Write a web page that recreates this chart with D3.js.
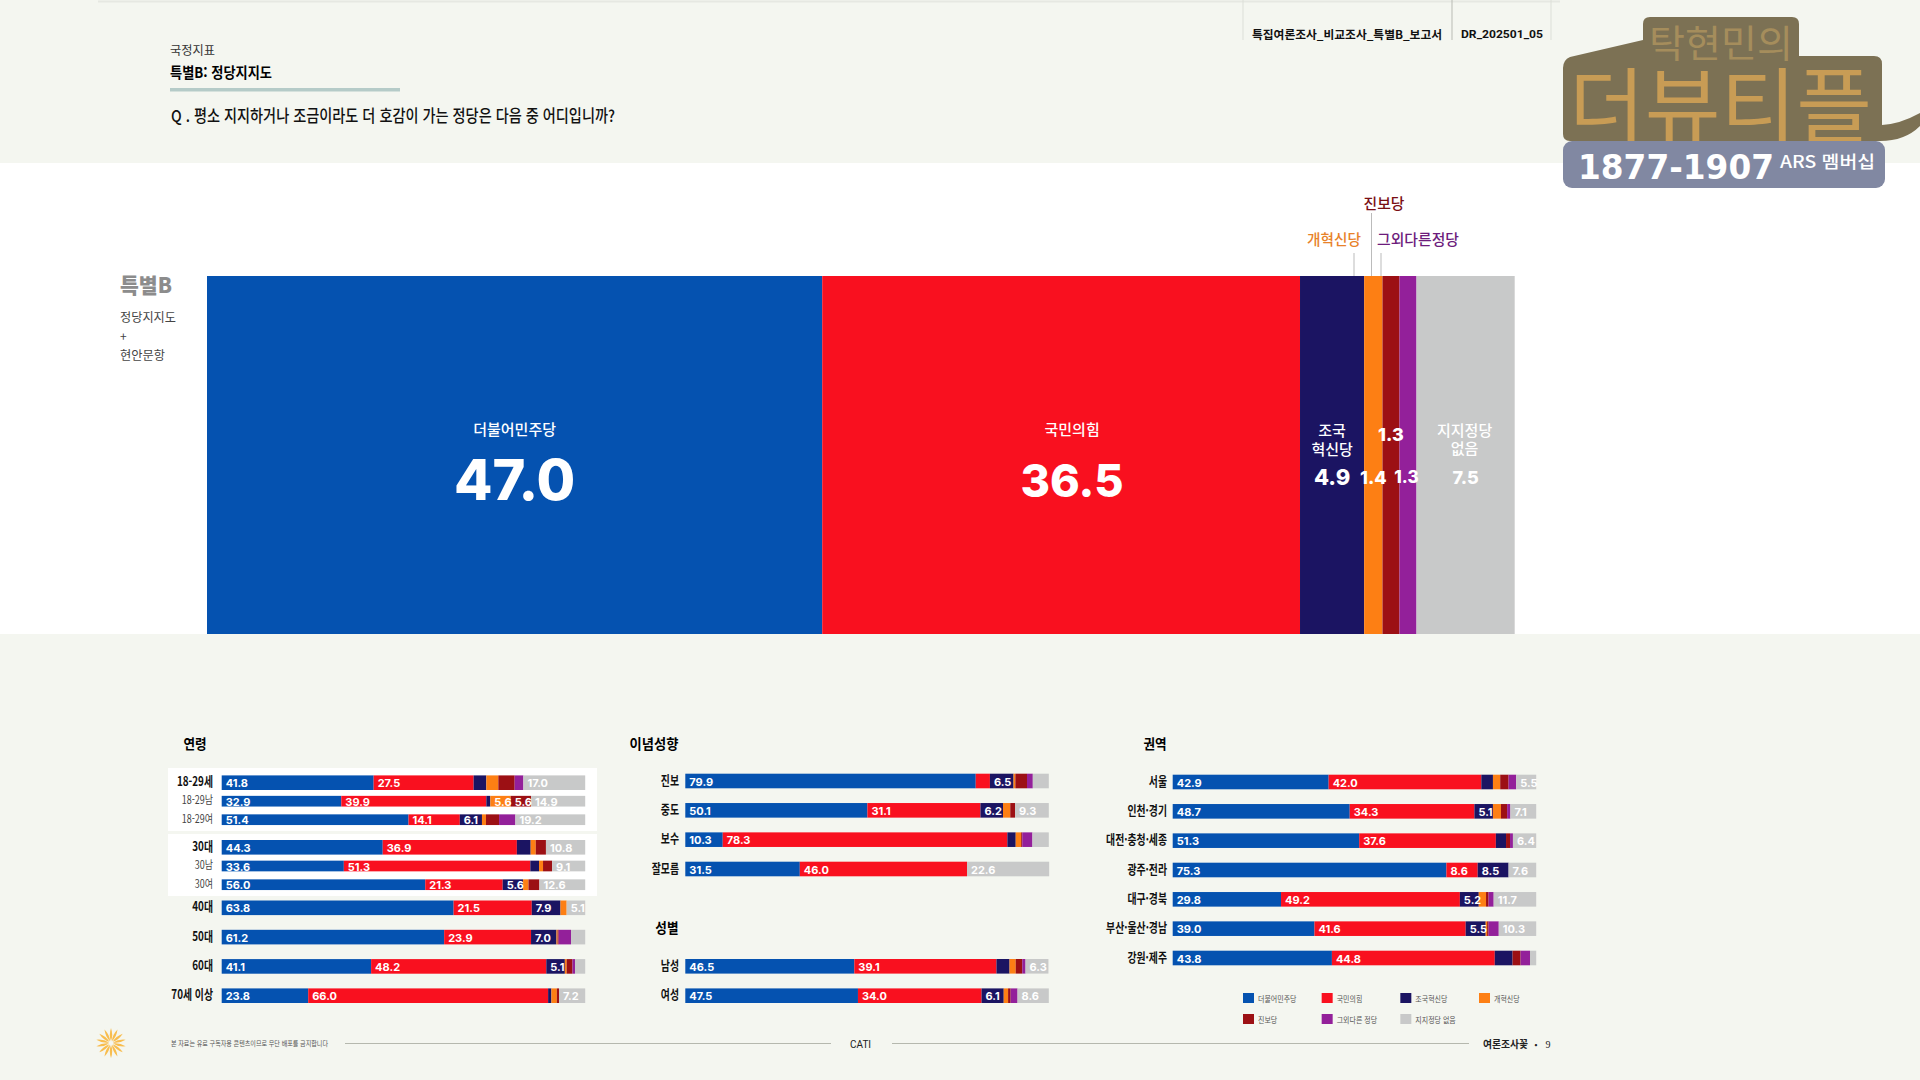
<!DOCTYPE html>
<html lang="ko">
<head>
<meta charset="utf-8">
<script src="https://cdnjs.cloudflare.com/ajax/libs/d3/7.8.5/d3.min.js"></script>
<style>
  html, body { margin: 0; padding: 0; background: #f4f6f0; }
  svg { display: block; font-family: "Noto Sans CJK KR", "Noto Sans", sans-serif; }
</style>
</head>
<body>
<div id="chart"></div>
<script>
const partyNames = ["더불어민주당", "국민의힘", "조국혁신당", "개혁신당", "진보당", "그외다른 정당", "지지정당 없음"];
const partyColors = ["#0552b0", "#f9101f", "#1b1462", "#fd7f14", "#9c1014", "#93209a", "#c8c9c9"];
const overallValues = [47.0, 36.5, 4.9, 1.4, 1.3, 1.3, 7.5];

// 연령
const age1829Labels = ["18-29세", "18-29남", "18-29여"];
const age1829Values = [
  [41.8, 27.5, 3.5, 3.3, 4.5, 2.4, 17.0],
  [32.9, 39.9, 1.1, 5.6, 5.6, 0, 14.9],
  [51.4, 14.1, 6.1, 1.1, 3.6, 4.5, 19.2]
];
const age30Labels = ["30대", "30남", "30여"];
const age30Values = [
  [44.3, 36.9, 3.8, 1.4, 2.8, 0, 10.8],
  [33.6, 51.3, 2.4, 1.1, 2.5, 0, 9.1],
  [56.0, 21.3, 5.6, 1.5, 3.0, 0, 12.6]
];
const ageRestLabels = ["40대", "50대", "60대", "70세 이상"];
const ageRestValues = [
  [63.8, 21.5, 7.9, 1.7, 0, 0, 5.1],
  [61.2, 23.9, 7.0, 0.3, 0.3, 3.4, 3.9],
  [41.1, 48.2, 5.1, 0.5, 1.6, 0.7, 2.8],
  [23.8, 66.0, 0.9, 1.5, 0.6, 0, 7.2]
];

// 이념성향, 성별
const ideologyLabels = ["진보", "중도", "보수", "잘모름"];
const ideologyValues = [
  [79.9, 3.9, 6.5, 0.5, 3.2, 1.6, 4.4],
  [50.1, 31.1, 6.2, 2.0, 1.3, 0, 9.3],
  [10.3, 78.3, 2.3, 1.5, 0.3, 2.8, 4.5],
  [31.5, 46.0, 0, 0, 0, 0, 22.6]
];
const genderLabels = ["남성", "여성"];
const genderValues = [
  [46.5, 39.1, 3.6, 1.7, 1.8, 0.9, 6.3],
  [47.5, 34.0, 6.1, 1.2, 0.7, 1.9, 8.6]
];

// 권역
const regionLabels = ["서울", "인천·경기", "대전·충청·세종", "광주·전라", "대구·경북", "부산·울산·경남", "강원·제주"];
const regionValues = [
  [42.9, 42.0, 3.2, 2.0, 2.3, 2.1, 5.5],
  [48.7, 34.3, 5.1, 2.2, 1.7, 0.9, 7.1],
  [51.3, 37.6, 2.8, 0, 1.1, 0.8, 6.4],
  [75.3, 8.6, 8.5, 0, 0, 0, 7.6],
  [29.8, 49.2, 5.2, 2.0, 0.7, 1.4, 11.7],
  [39.0, 41.6, 5.5, 0.4, 0.4, 2.8, 10.3],
  [43.8, 44.8, 4.9, 0, 2.2, 2.6, 1.7]
];

const svg = d3.select("#chart").append("svg").attr("width", 1920).attr("height", 1080);
const fmt = d3.format(".1f");

// helper, fit = width to fill, squeeze = condense horizontally
function label(g, x, y, str, o = {}) {
  const t = g.append("text")
    .attr("x", x).attr("y", y)
    .attr("dominant-baseline", "central")
    .attr("text-anchor", o.anchor || "start")
    .attr("font-size", o.size || 12)
    .attr("font-weight", o.weight || 400)
    .attr("fill", o.fill || "#111")
    .text(str);
  if (o.family) t.attr("font-family", o.family);
  if (o.squeeze) t.attr("x", 0).attr("y", 0).attr("transform", `translate(${x},${y}) scale(${o.squeeze},1)`);
  if (o.fit) t.attr("textLength", o.fit).attr("lengthAdjust", "spacingAndGlyphs");
  return t;
}

// two lines in a single text element
function label2(g, x, y, lines, gap, o = {}) {
  const t = g.append("text")
    .attr("text-anchor", "middle")
    .attr("font-size", o.size || 15)
    .attr("font-weight", o.weight || 500)
    .attr("fill", o.fill || "#fff");
  lines.forEach((s, i) => {
    t.append("tspan").attr("x", x).attr("y", y + i * gap).attr("dominant-baseline", "central").text(s);
  });
  return t;
}

// background bands
svg.append("rect").attr("width", 1920).attr("height", 1080).attr("fill", "#f4f6f0");
svg.append("rect").attr("y", 163).attr("width", 1920).attr("height", 471).attr("fill", "#fff");
svg.append("rect").attr("x", 168).attr("y", 768).attr("width", 429).attr("height", 63).attr("fill", "#fff");
svg.append("rect").attr("x", 168).attr("y", 834).attr("width", 429).attr("height", 62).attr("fill", "#fff");

// header
const head = svg.append("g");
head.append("line").attr("x1", 98).attr("x2", 1560).attr("y1", 1.5).attr("y2", 1.5).attr("stroke", "#e6e8e2").attr("stroke-width", 2);
label(head, 170, 49, "국정지표", { size: 12.5, fit: 45, fill: "#333" });
label(head, 170, 71.5, "특별B: 정당지지도", { size: 14.5, weight: 700, fit: 102, fill: "#000" });
head.append("rect").attr("x", 170).attr("y", 88).attr("width", 230).attr("height", 3.5).attr("fill", "#b5cbc8");
label(head, 171, 115, "Q . 평소 지지하거나 조금이라도 더 호감이 가는 정당은 다음 중 어디입니까?", { size: 16.5, weight: 500, fit: 444, fill: "#111" });
[1243, 1452, 1551].forEach((x, i) => {
  head.append("line").attr("x1", x).attr("x2", x).attr("y1", 0).attr("y2", 40)
    .attr("stroke", i === 1 ? "#b9bbb4" : "#dcdfd8");
});
label(head, 1252, 33.5, "특집여론조사_비교조사_특별B_보고서", { size: 11.5, weight: 700, fit: 190, fill: "#111" });
label(head, 1461, 34, "DR_202501_05", { size: 11, weight: 700, fit: 82, fill: "#111", family: "Roboto" });

// logo overlay
const logo = svg.append("g");
logo.append("path")
  .attr("d", "M1563 68 Q1563 60 1570 57 L1643 40 L1643 24 Q1643 17 1650 17 L1792 17 Q1799 17 1799 24 L1799 56 L1874 56 Q1882 56 1882 64 L1882 125 Q1900 124 1920 113 L1920 126 Q1905 141 1880 141 L1570 141 Q1563 141 1563 134 Z")
  .attr("fill", "#7c7154");
label(logo, 1649, 40, "탁현민의", { size: 38, weight: 400, fit: 144, fill: "#a58d5c" });
label(logo, 1569, 100, "더뷰티플", { size: 82, weight: 400, fit: 303, fill: "#c89c55" });
logo.append("rect").attr("x", 1563).attr("y", 141).attr("width", 322).attr("height", 47).attr("rx", 9).attr("fill", "#8188a2");
label(logo, 1578, 167, "1877-1907", { size: 33, weight: 700, fit: 196, fill: "#fff", family: "DejaVu Sans" });
label(logo, 1780, 160, "ARS 멤버십", { size: 17, weight: 500, fit: 95, fill: "#fff" });

// main stacked bar
const xMain = d3.scaleLinear().domain([0, 100]).range([207, 1516]);
const mainTop = 276, mainH = 358;
const mainEnds = d3.cumsum(overallValues);
const main = svg.append("g");
main.selectAll("rect").data(overallValues).join("rect")
  .attr("x", (d, i) => xMain(mainEnds[i] - d))
  .attr("y", mainTop)
  .attr("width", d => xMain(d) - xMain(0))
  .attr("height", mainH)
  .attr("fill", (d, i) => partyColors[i]);

const mainMid = i => xMain(mainEnds[i] - overallValues[i] / 2);
const numFont = "Inter";
const bigNum = (x, y, i, size) => label(main, x, y, fmt(overallValues[i]), { anchor: "middle", size, weight: 800, fill: "#fff", family: numFont });

label(main, mainMid(0), 428, partyNames[0], { anchor: "middle", size: 15, weight: 500, fill: "#fff" });
bigNum(mainMid(0), 480, 0, 56);
label(main, mainMid(1) + 11, 428, partyNames[1], { anchor: "middle", size: 15, weight: 500, fill: "#fff" });
bigNum(mainMid(1) + 11, 480, 1, 45);
label2(main, mainMid(2), 429, ["조국", "혁신당"], 19);
bigNum(mainMid(2), 477, 2, 22);
bigNum(mainMid(3), 477, 3, 18);
bigNum(mainMid(4), 434, 4, 18);
bigNum(mainMid(5) - 1.5, 477, 5, 17);
label2(main, mainMid(6) - 1, 429, ["지지정당", "없음"], 18);
bigNum(mainMid(6), 477, 6, 18);

// callouts above the bar
const callouts = svg.append("g");
label(callouts, 1384, 202.5, "진보당", { anchor: "middle", size: 15, weight: 500, fit: 41, fill: "#7a0e14" });
label(callouts, 1307, 238, "개혁신당", { size: 15, weight: 500, fit: 54, fill: "#e8822a" });
label(callouts, 1377, 238, "그외다른정당", { size: 15, weight: 500, fit: 82, fill: "#6d1c7c" });
[[1354, 253], [1371.5, 213], [1381, 253]].forEach(([x, y]) => {
  callouts.append("line").attr("x1", x).attr("x2", x).attr("y1", y).attr("y2", mainTop).attr("stroke", "#bbb");
});

// side caption
const side = svg.append("g");
label(side, 120, 284, "특별B", { size: 21, weight: 900, fit: 52, fill: "#8c8c8c" });
label(side, 120, 316, "정당지지도", { size: 12.5, fit: 56, fill: "#444" });
label(side, 120, 335, "+", { size: 12, fill: "#444" });
label(side, 120, 354, "현안문항", { size: 12.5, fit: 45, fill: "#444" });

// small stacked bar blocks
function block(labels, values, yRange, x0, labelEnd, opts = {}) {
  const x = d3.scaleLinear().domain([0, 100]).range([x0, x0 + 363.5]);
  const y = d3.scalePoint().domain(labels).range(yRange);
  const sub = opts.sub || [];
  const rowG = svg.append("g").selectAll("g").data(labels).join("g")
    .attr("transform", d => `translate(0,${y(d)})`);

  rowG.each(function (name, r) {
    const g = d3.select(this);
    const h = sub.includes(name) ? 10.7 : 14.6;
    const ends = d3.cumsum(values[r]);
    g.selectAll("rect").data(values[r]).join("rect")
      .attr("x", (d, i) => x(ends[i] - d))
      .attr("y", -h / 2)
      .attr("width", d => x(d) - x(0))
      .attr("height", h)
      .attr("fill", (d, i) => partyColors[i]);
    g.selectAll("text.val").data(values[r].map((d, i) => ({ d, i })).filter(s => s.d >= 5)).join("text")
      .attr("class", "val")
      .attr("x", s => x(ends[s.i] - s.d) + 4)
      .attr("y", 0.5)
      .attr("dominant-baseline", "central")
      .attr("font-family", "Inter")
      .attr("font-size", 11)
      .attr("font-weight", 700)
      .attr("fill", "#fff")
      .text(s => fmt(s.d));
    label(g, labelEnd, -2, name, sub.includes(name)
      ? { anchor: "end", size: 11.5, fill: "#444", squeeze: 0.78 }
      : { anchor: "end", size: 13, weight: 700, fill: "#111", squeeze: 0.76 });
  });
}

const ageSub = ["18-29남", "18-29여", "30남", "30여"];
block(age1829Labels, age1829Values, [782.7, 819.7], 221.7, 213, { sub: ageSub });
block(age30Labels, age30Values, [847.3, 884.7], 221.7, 213, { sub: ageSub });
block(ageRestLabels, ageRestValues, [907.8, 995.7], 221.7, 213);
block(ideologyLabels, ideologyValues, [781, 869], 685.3, 679);
block(genderLabels, genderValues, [966.3, 995.7], 685.3, 679);
block(regionLabels, regionValues, [782, 958], 1172.7, 1167);

// panel titles
const titles = svg.append("g");
label(titles, 195, 743, "연령", { anchor: "middle", size: 14, weight: 700, fill: "#000", squeeze: 0.9 });
label(titles, 678.5, 743, "이념성향", { anchor: "end", size: 14, weight: 700, fill: "#000", squeeze: 0.95 });
label(titles, 678.5, 927, "성별", { anchor: "end", size: 14, weight: 700, fill: "#000", squeeze: 0.9 });
label(titles, 1155, 743, "권역", { anchor: "middle", size: 14, weight: 700, fill: "#000", squeeze: 0.9 });

// legend
const legendX = d3.scalePoint().domain([0, 1, 2, 3]).range([1243, 1479]);
const legendY = d3.scalePoint().domain([0, 1]).range([998, 1019]);
const legend = svg.append("g").selectAll("g").data(partyNames).join("g")
  .attr("transform", (d, i) => `translate(${legendX(i % 4)},${legendY(Math.floor(i / 4))})`);
legend.append("rect").attr("y", -5).attr("width", 11).attr("height", 10).attr("fill", (d, i) => partyColors[i]);
legend.each(function (d) {
  label(d3.select(this), 15, 0, d, { size: 8.5, fill: "#555", squeeze: 0.82 });
});

// footer
const foot = svg.append("g");
const star = foot.append("g").attr("transform", "translate(111,1043)");
star.selectAll("path").data(d3.range(14)).join("path")
  .attr("d", "M0 -2 Q2.4 -8 0 -15 Q-2.4 -8 0 -2 Z")
  .attr("fill", "#f8bd4e")
  .attr("transform", d => `rotate(${d * 360 / 14})`);
label(foot, 171, 1043, "본 자료는 유료 구독자용 콘텐츠이므로 무단 배포를 금지합니다", { size: 7, fit: 157, fill: "#555" });
foot.append("line").attr("x1", 345).attr("x2", 831).attr("y1", 1043.5).attr("y2", 1043.5).attr("stroke", "#b5b8ae").attr("stroke-width", 1.2);
label(foot, 850, 1044, "CATI", { size: 10, fill: "#222", family: "Roboto" });
foot.append("line").attr("x1", 892).attr("x2", 1469).attr("y1", 1043.5).attr("y2", 1043.5).attr("stroke", "#b5b8ae").attr("stroke-width", 1.2);
label(foot, 1483, 1043, "여론조사꽃", { size: 10.5, weight: 700, fit: 45, fill: "#222" });
label(foot, 1536, 1044, "·", { anchor: "middle", size: 12, weight: 700, fill: "#222" });
label(foot, 1548, 1044, "9", { anchor: "middle", size: 10, fill: "#222", family: "Liberation Serif" });
</script>
</body>
</html>
